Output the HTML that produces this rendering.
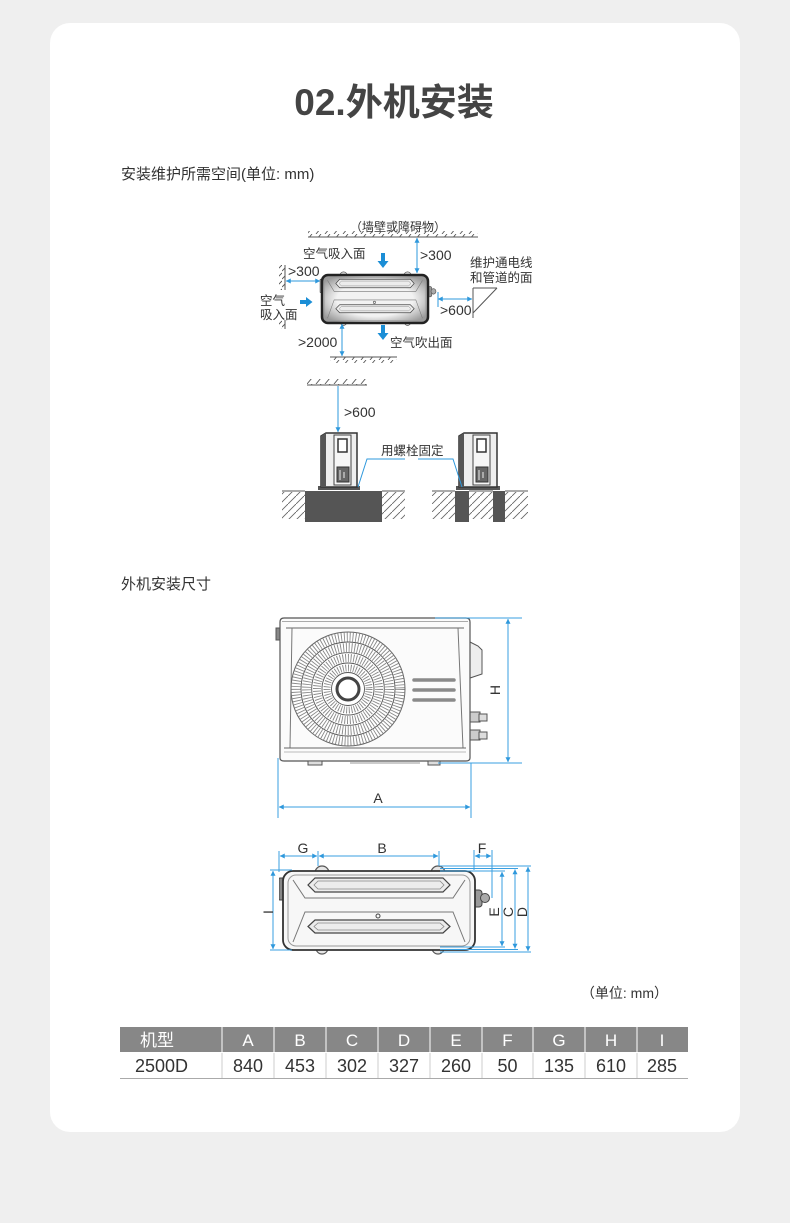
<!DOCTYPE html>
<html><head><meta charset="utf-8">
<style>
html,body{margin:0;padding:0;background:#efefef;}
body{width:790px;height:1223px;position:relative;overflow:hidden;}
.card{position:absolute;left:50px;top:23px;width:690px;height:1109px;background:#fff;border-radius:20px;}
svg{position:absolute;left:0;top:0;}
</style></head><body>
<div class="card"></div>
<svg width="790" height="1223" viewBox="0 0 790 1223" font-family="'Liberation Sans','Noto Sans CJK SC',sans-serif">
<defs>
<marker id="a" viewBox="0 0 10 10" refX="9.5" refY="5" markerWidth="6" markerHeight="5" markerUnits="userSpaceOnUse" orient="auto-start-reverse"><path d="M0,0 L10,5 L0,10 Z" fill="#2e98dc"/></marker>
<pattern id="hu" width="9" height="6" patternUnits="userSpaceOnUse"><path d="M1,6 L6,0" stroke="#555" stroke-width="0.9"/></pattern>
<pattern id="hd" width="8" height="8" patternUnits="userSpaceOnUse"><path d="M0,8 L8,0" stroke="#666" stroke-width="0.9"/></pattern>
<pattern id="hl" width="6" height="8" patternUnits="userSpaceOnUse"><path d="M0,7 L6,1" stroke="#555" stroke-width="0.9"/></pattern>
<radialGradient id="ug" cx="50%" cy="50%" r="60%"><stop offset="0.6" stop-color="#f2f2f2"/><stop offset="1" stop-color="#9a9a9a"/></radialGradient>
<symbol id="tu" viewBox="0 0 212 92" preserveAspectRatio="none">
<circle cx="43" cy="9" r="7" fill="#e6e6e6" stroke="#555" stroke-width="1.2"/>
<circle cx="159" cy="9" r="7" fill="#e6e6e6" stroke="#555" stroke-width="1.2"/>
<circle cx="43" cy="84" r="6" fill="#e6e6e6" stroke="#555" stroke-width="1.2"/>
<circle cx="159" cy="84" r="6" fill="#e6e6e6" stroke="#555" stroke-width="1.2"/>
<rect x="0" y="14" width="7" height="22" rx="1" fill="#888" stroke="#444"/>
<rect x="192" y="26" width="11" height="17" rx="3" fill="#999" stroke="#444"/>
<circle cx="206" cy="34" r="4.5" fill="#aaa" stroke="#444"/>
<rect x="4" y="7" width="192" height="79" rx="10" stroke="#333" stroke-width="1.8"/>
<rect x="9" y="11" width="182" height="71" rx="8" fill="none" stroke="#999"/>
<path d="M36,14 H164 L171,21 L164,28 H36 L29,21 Z" fill="#ececec" stroke="#444" stroke-width="1.2"/>
<path d="M39,17 H161 L165,21 L161,25 H39 L35,21 Z" fill="none" stroke="#888" stroke-width="0.8"/>
<path d="M36,56 H164 L171,62.5 L164,69 H36 L29,62.5 Z" fill="#ececec" stroke="#444" stroke-width="1.2"/>
<path d="M39,59 H161 L165,62.5 L161,66 H39 L35,62.5 Z" fill="none" stroke="#888" stroke-width="0.8"/>
<path d="M14,16 L26,34 H174 L186,16 M14,78 L26,48 H174 L186,78" fill="none" stroke="#777" stroke-width="1"/>
<circle cx="99" cy="52" r="2" fill="none" stroke="#444"/>
</symbol>
</defs>

<!-- Title -->
<text x="394" y="115" text-anchor="middle" font-size="37" font-weight="bold" fill="#444">02.外机安装</text>
<text x="121" y="179" font-size="15" fill="#333">安装维护所需空间(单位: mm)</text>

<!-- Diagram 1 -->
<text x="350" y="231" font-size="12" fill="#333">（墙壁或障碍物）</text>
<line x1="308" y1="237" x2="478" y2="237" stroke="#555"/>
<rect x="308" y="231" width="170" height="6" fill="url(#hu)"/>
<line x1="417" y1="238" x2="417" y2="273" stroke="#2e98dc" marker-start="url(#a)" marker-end="url(#a)"/>
<text x="420" y="260" font-size="14" fill="#333">&gt;300</text>
<text x="303" y="258" font-size="12.5" fill="#333">空气吸入面</text>
<polygon points="381,253 385,253 385,261 388.5,261 383,268 377.5,261 381,261" fill="#1b8ed6"/>
<text x="470" y="267" font-size="12.5" fill="#333">维护通电线</text>
<text x="470" y="282" font-size="12.5" fill="#333">和管道的面</text>
<!-- right wall -->
<path d="M473,288 H497 M473,288 V318 M497,288 L473,313" stroke="#555" fill="none"/>
<line x1="438" y1="292" x2="438" y2="307" stroke="#2e98dc"/>
<line x1="438" y1="299" x2="472" y2="299" stroke="#2e98dc" marker-start="url(#a)" marker-end="url(#a)"/>
<text x="440" y="315" font-size="14" fill="#333">&gt;600</text>
<!-- left wall -->
<path d="M285,265 V290 M285,320 V329" stroke="#555"/>
<rect x="279" y="265" width="6" height="25" fill="url(#hl)"/>
<rect x="279" y="320" width="6" height="9" fill="url(#hl)"/>
<line x1="286" y1="281" x2="320" y2="281" stroke="#2e98dc" marker-start="url(#a)" marker-end="url(#a)"/>
<text x="288" y="276" font-size="14" fill="#333">&gt;300</text>
<text x="260" y="305" font-size="12.5" fill="#333">空气</text>
<text x="260" y="319" font-size="12.5" fill="#333">吸入面</text>
<polygon points="300,300 306,300 306,297 312.5,302 306,307 306,304 300,304" fill="#1b8ed6"/>
<!-- unit -->
<use href="#tu" x="319.8" y="270.7" width="117" height="56" fill="url(#ug)"/>
<rect x="322" y="275" width="106" height="48" rx="6" fill="none" stroke="#222" stroke-width="2.5"/>
<!-- bottom -->
<line x1="342" y1="324" x2="342" y2="356" stroke="#2e98dc" marker-start="url(#a)" marker-end="url(#a)"/>
<text x="298" y="347" font-size="14" fill="#333">&gt;2000</text>
<polygon points="381,325 385,325 385,333 388.5,333 383,340 377.5,333 381,333" fill="#1b8ed6"/>
<text x="390" y="347" font-size="12.5" fill="#333">空气吹出面</text>
<line x1="330" y1="357" x2="397" y2="357" stroke="#555"/>
<rect x="330" y="357" width="67" height="6" fill="url(#hu)"/>

<!-- Diagram 2 -->
<line x1="307" y1="385" x2="367" y2="385" stroke="#555"/>
<rect x="307" y="379" width="60" height="6" fill="url(#hu)"/>
<line x1="338" y1="386" x2="338" y2="432" stroke="#2e98dc" marker-end="url(#a)"/>
<text x="344" y="417" font-size="14" fill="#333">&gt;600</text>
<!-- left unit -->
<g>
<rect x="318" y="486" width="42" height="4" fill="#555"/>
<path d="M321,436 L326,433 H357 V487 H321 Z" fill="#eee" stroke="#333" stroke-width="1.5"/>
<path d="M321,436 L326,433 V487 H321 Z" fill="#555"/>
<rect x="334" y="435" width="17" height="50" fill="#f6f6f6" stroke="#444"/>
<rect x="338" y="439" width="9" height="13" fill="#fff" stroke="#333" stroke-width="1.5"/>
<rect x="337" y="467" width="12" height="15" fill="#666" stroke="#333"/>
<path d="M340,470 V480 M344,472 V478" stroke="#eee"/>
</g>
<!-- right unit -->
<g>
<rect x="456" y="486" width="44" height="4" fill="#555"/>
<path d="M459,436 L464,433 H497 V487 H459 Z" fill="#eee" stroke="#333" stroke-width="1.5"/>
<path d="M459,436 L464,433 V487 H459 Z" fill="#555"/>
<rect x="473" y="435" width="17" height="50" fill="#f6f6f6" stroke="#444"/>
<rect x="477" y="439" width="9" height="13" fill="#fff" stroke="#333" stroke-width="1.5"/>
<rect x="476" y="467" width="12" height="15" fill="#666" stroke="#333"/>
<path d="M479,470 V480 M483,472 V478" stroke="#eee"/>
</g>
<!-- bases -->
<rect x="305" y="491" width="77" height="31" fill="#555"/>
<rect x="455" y="491" width="14" height="31" fill="#555"/>
<rect x="493" y="491" width="12" height="31" fill="#555"/>
<path d="M282,491 H305 M382,491 H405 M432,491 H455 M469,491 H493 M505,491 H528" stroke="#555"/>
<rect x="282" y="492" width="23" height="27" fill="url(#hd)"/>
<rect x="382" y="492" width="23" height="27" fill="url(#hd)"/>
<rect x="432" y="492" width="23" height="27" fill="url(#hd)"/>
<rect x="469" y="492" width="24" height="27" fill="url(#hd)"/>
<rect x="505" y="492" width="23" height="27" fill="url(#hd)"/>
<!-- leader -->
<path d="M358,487 L367,459 H405 M418,459 H453 L462,487" fill="none" stroke="#2e98dc"/>
<text x="381" y="455" font-size="12.5" fill="#333">用螺栓固定</text>

<!-- Section 2 title -->
<text x="121" y="589" font-size="15" fill="#333">外机安装尺寸</text>

<!-- Front view -->
<g stroke="#555" fill="none">
<rect x="276" y="628" width="4" height="12" fill="#888"/>
<path d="M470,642 L478,646 L482,650 V674 L470,678 Z" fill="#eee"/>
<rect x="470" y="712" width="10" height="10" fill="#ccc"/>
<rect x="479" y="714" width="8" height="7" fill="#ddd"/>
<rect x="470" y="730" width="10" height="10" fill="#ccc"/>
<rect x="479" y="732" width="8" height="7" fill="#ddd"/>
<path d="M280,622 Q280,618 284,618 H466 Q470,618 470,622 V758 Q470,761 466,761 H284 Q280,761 280,758 Z" fill="#fbfbfb" stroke-width="1.2"/>
<path d="M282,621.5 H468" stroke="#aaa"/>
<path d="M286,628 H464" stroke="#666"/>
<path d="M292,628 L290,748 M458,628 L463,748" stroke="#777"/>
<path d="M284,748 H466" stroke="#666"/>
<path d="M284,752 H466" stroke="#bbb"/>
<rect x="308" y="761" width="14" height="4" fill="#ddd"/>
<rect x="428" y="761" width="12" height="4" fill="#ddd"/>
<path d="M350,763 H420" stroke="#999"/>
</g>
<!-- fan -->
<circle cx="348" cy="689" r="57" fill="#fff" stroke="#666"/>
<circle cx="348" cy="689" r="52" fill="none" stroke="#888" stroke-width="9" stroke-dasharray="0.9 2"/>
<circle cx="348" cy="689" r="41.5" fill="none" stroke="#888" stroke-width="9" stroke-dasharray="0.9 1.9"/>
<circle cx="348" cy="689" r="31" fill="none" stroke="#888" stroke-width="8" stroke-dasharray="0.9 1.8"/>
<circle cx="348" cy="689" r="21" fill="none" stroke="#888" stroke-width="7" stroke-dasharray="0.9 1.7"/>
<g fill="none" stroke="#555" stroke-width="0.9">
<circle cx="348" cy="689" r="47"/><circle cx="348" cy="689" r="36.3"/><circle cx="348" cy="689" r="26"/><circle cx="348" cy="689" r="16.5"/>
</g>
<circle cx="348" cy="689" r="11" fill="#fff" stroke="#444" stroke-width="3"/>
<g stroke="#8a8a8a" stroke-width="3.5" stroke-linecap="round"><path d="M414,680 H454 M414,690 H454 M414,700 H454"/></g>
<!-- H / A dims -->
<g stroke="#3a9fe0" stroke-width="1" fill="none">
<path d="M435,618 H522 M438,763 H522"/>
<line x1="508" y1="619" x2="508" y2="762" marker-start="url(#a)" marker-end="url(#a)"/>
<path d="M278,758 V818 M471,763 V818"/>
<line x1="279" y1="807" x2="470" y2="807" marker-start="url(#a)" marker-end="url(#a)"/>
</g>
<text transform="translate(495,690) rotate(-90)" text-anchor="middle" dominant-baseline="central" font-size="14" fill="#333">H</text>
<text x="378" y="803" text-anchor="middle" font-size="14" fill="#333">A</text>

<!-- Top view -->
<use href="#tu" x="279" y="864" width="212" height="92" fill="#f7f7f7"/>
<g stroke="#3a9fe0" stroke-width="1" fill="none">
<path d="M279,851 V872 M318,851 V866 M439,851 V866 M474,850 V870 M492,850 V898"/>
<line x1="280" y1="856" x2="317" y2="856" marker-start="url(#a)" marker-end="url(#a)"/>
<line x1="319" y1="856" x2="438" y2="856" marker-start="url(#a)" marker-end="url(#a)"/>
<line x1="475" y1="856" x2="491" y2="856" marker-start="url(#a)" marker-end="url(#a)"/>
<path d="M270,870 H292 M270,950 H292"/>
<line x1="273" y1="871" x2="273" y2="949" marker-start="url(#a)" marker-end="url(#a)"/>
<path d="M440,866 H531 M440,868.5 H518 M440,871 H505 M440,947 H505 M440,949.5 H518 M440,952 H531"/>
<line x1="502" y1="872" x2="502" y2="946" marker-start="url(#a)" marker-end="url(#a)"/>
<line x1="515" y1="869.5" x2="515" y2="948.5" marker-start="url(#a)" marker-end="url(#a)"/>
<line x1="528" y1="867" x2="528" y2="951" marker-start="url(#a)" marker-end="url(#a)"/>
</g>
<g font-size="14" fill="#333" text-anchor="middle">
<text x="303" y="853">G</text>
<text x="382" y="853">B</text>
<text x="482" y="853">F</text>
<text transform="translate(268,912) rotate(-90)" dominant-baseline="central">I</text>
<text transform="translate(494,912) rotate(-90)" dominant-baseline="central">E</text>
<text transform="translate(508,912) rotate(-90)" dominant-baseline="central">C</text>
<text transform="translate(522,912) rotate(-90)" dominant-baseline="central">D</text>
</g>

<!-- unit note -->
<text x="668" y="998" text-anchor="end" font-size="14" fill="#333">（单位: mm）</text>

<!-- Table -->
<rect x="120" y="1027" width="568" height="25" fill="#878787"/>
<g stroke="#fff" stroke-width="1">
<path d="M222,1027 V1052 M274,1027 V1052 M326,1027 V1052 M378,1027 V1052 M430,1027 V1052 M482,1027 V1052 M533,1027 V1052 M585,1027 V1052 M637,1027 V1052"/>
</g>
<g stroke="#ccc" stroke-width="1">
<path d="M222,1053 V1078 M274,1053 V1078 M326,1053 V1078 M378,1053 V1078 M430,1053 V1078 M482,1053 V1078 M533,1053 V1078 M585,1053 V1078 M637,1053 V1078"/>
</g>
<line x1="120" y1="1078.5" x2="688" y2="1078.5" stroke="#aaa"/>
<g font-size="17" fill="#fff" text-anchor="middle">
<text x="140" y="1046" text-anchor="start">机型</text>
<text x="248" y="1046">A</text>
<text x="300" y="1046">B</text>
<text x="352" y="1046">C</text>
<text x="404" y="1046">D</text>
<text x="456" y="1046">E</text>
<text x="507.5" y="1046">F</text>
<text x="559" y="1046">G</text>
<text x="611" y="1046">H</text>
<text x="662" y="1046">I</text>
</g>
<g font-size="18" fill="#333" text-anchor="middle">
<text x="135" y="1072" text-anchor="start">2500D</text>
<text x="248" y="1072">840</text>
<text x="300" y="1072">453</text>
<text x="352" y="1072">302</text>
<text x="404" y="1072">327</text>
<text x="456" y="1072">260</text>
<text x="507.5" y="1072">50</text>
<text x="559" y="1072">135</text>
<text x="611" y="1072">610</text>
<text x="662" y="1072">285</text>
</g>
</svg>
</body></html>
